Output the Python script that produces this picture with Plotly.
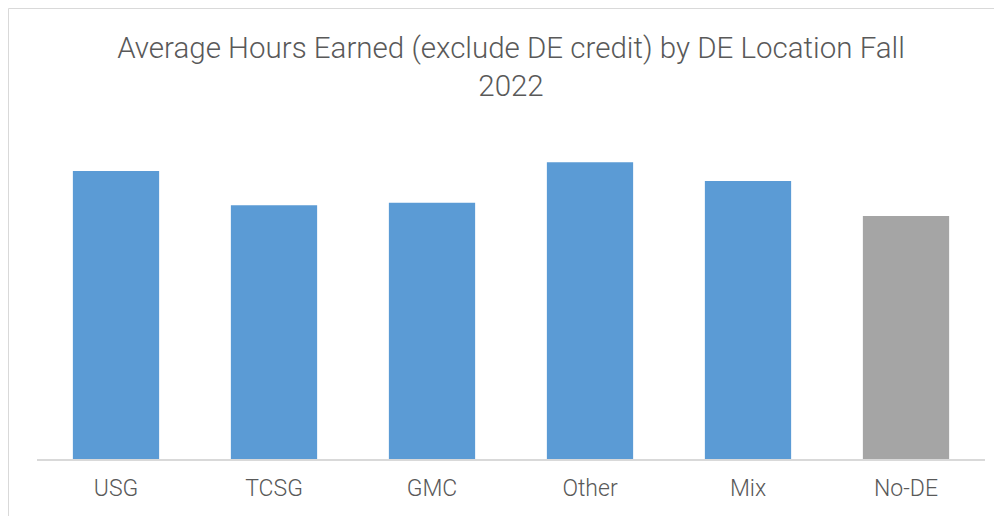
import plotly.graph_objects as go

categories = ["USG", "TCSG", "GMC", "Other", "Mix", "No-DE"]
values = [12.0, 10.57, 10.68, 12.36, 11.58, 10.13]
bar_colors = ["#5B9BD5", "#5B9BD5", "#5B9BD5", "#5B9BD5", "#5B9BD5", "#A5A5A5"]
title_text = "Average Hours Earned (exclude DE credit) by DE Location Fall<br>2022"

# page has an 8px body margin; figure fills the rest of the 1002x516 window
W, H = 994, 508
ml, mr, mt, mb = 29, 17, 91, 57
pw, ph = W - ml - mr, H - mt - mb

def px_x(x):
    return (x - ml) / pw

def px_y(y):
    return (H - mb - y) / ph

fig = go.Figure(go.Bar(
    x=categories, y=values,
    marker=dict(color=bar_colors, line=dict(width=0)),
    hoverinfo="x+y",
))

font_family = "Roboto, Open Sans, sans-serif"

fig.update_layout(
    width=W, height=H,
    margin=dict(l=ml, r=mr, t=mt, b=mb, pad=0),
    paper_bgcolor="white", plot_bgcolor="white",
    bargap=0.454,
    showlegend=False,
    font=dict(family=font_family, color="#595959"),
    title=dict(
        text=title_text, xref="paper", x=0.5, xanchor="center",
        yref="container", y=1 - 50 / H, yanchor="top",
        font=dict(size=29.5, color="#595959", family=font_family, weight=300),
    ),
    xaxis=dict(
        showline=True, linecolor="#D9D9D9", linewidth=1.5,
        showgrid=False, zeroline=False, ticks="",
        tickfont=dict(size=23, color="#595959", family=font_family, weight=300),
        ticklabelstandoff=8,
    ),
    yaxis=dict(range=[0, 15], visible=False, showgrid=False, zeroline=False),
    shapes=[
        dict(type="rect", xref="paper", yref="paper",
             x0=px_x(0.5), x1=px_x(W + 20), y0=px_y(H + 20), y1=px_y(0.5),
             line=dict(color="#D9D9D9", width=1), fillcolor="rgba(0,0,0,0)",
             layer="below"),
    ],
)

fig.write_html("out.html")
